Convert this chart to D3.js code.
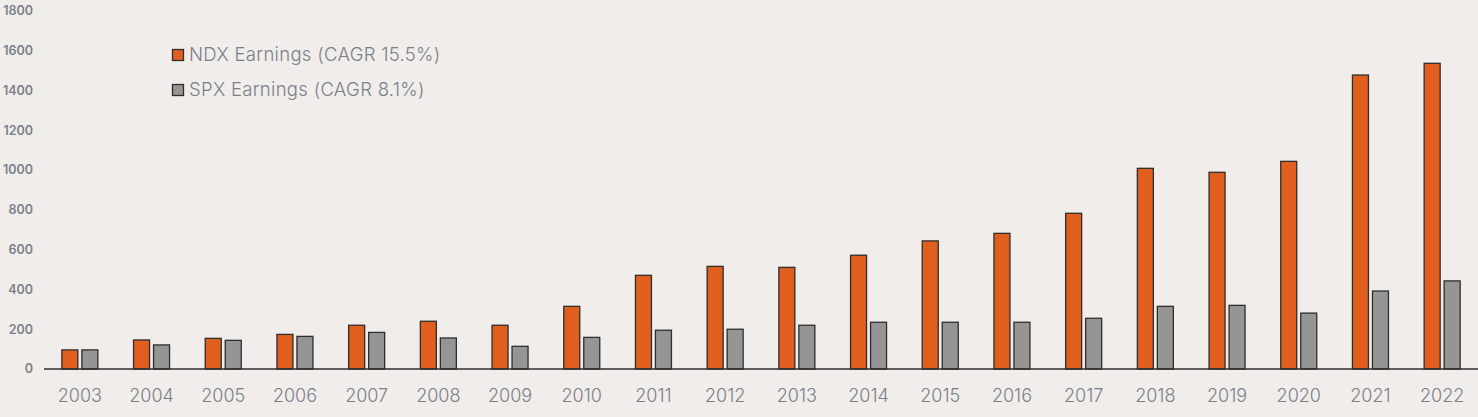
<!DOCTYPE html>
<html>
<head>
<meta charset="utf-8">
<script src="https://cdn.jsdelivr.net/npm/d3@7"></script>
<style>
  html, body { margin: 0; padding: 0; background: #f0edea; }
  svg { display: block; }
</style>
</head>
<body>
<svg id="chart" width="1478" height="417"></svg>
<script>
const years = ["2003","2004","2005","2006","2007","2008","2009","2010","2011","2012","2013","2014","2015","2016","2017","2018","2019","2020","2021","2022"];
const ndxEarnings = [96, 146, 154, 174, 220, 240, 220, 315, 471, 516, 511, 572, 644, 682, 783, 1009, 989, 1044, 1478, 1537];
const spxEarnings = [96, 121, 144, 164, 184, 156, 114, 159, 195, 200, 220, 235, 235, 235, 255, 315, 320, 281, 392, 443];
const yTicks = [0, 200, 400, 600, 800, 1000, 1200, 1400, 1600, 1800];
const seriesNames = ["NDX Earnings (CAGR 15.5%)", "SPX Earnings (CAGR 8.1%)"];
const seriesColors = ["#e05f1f", "#959595"];

const svg = d3.select("#chart");
const W = 1478, H = 417;
svg.append("rect").attr("width", W).attr("height", H).attr("fill", "#f0edea");

const x = d3.scaleBand().domain(years).range([44, 1478]).paddingInner(0).paddingOuter(0);
const y = d3.scaleLinear().domain([0, 1800]).range([369, 11]);
const barW = 16, gap = 4;

// y tick labels
svg.append("g").selectAll("text").data(yTicks).join("text")
  .attr("x", 33).attr("y", d => y(d)).attr("dy", "0.35em")
  .attr("text-anchor", "end")
  .attr("font-family", "Inter, 'Noto Sans', sans-serif")
  .attr("font-size", 12.5).attr("font-weight", 600)
  .attr("fill", "#7b7f8a")
  .text(d => d);

const series = [ndxEarnings, spxEarnings];
series.forEach((vals, si) => {
  svg.append("g").selectAll("rect").data(vals).join("rect")
    .attr("x", (d, i) => x(years[i]) + x.bandwidth() / 2 + (si === 0 ? -(barW + gap / 2) : gap / 2))
    .attr("y", d => y(d))
    .attr("width", barW)
    .attr("height", d => y(0) - y(d))
    .attr("fill", seriesColors[si])
    .attr("stroke", "#2e2e2e")
    .attr("stroke-width", 1.3);
});

// x axis line
svg.append("line").attr("x1", 44).attr("x2", 1478).attr("y1", y(0)).attr("y2", y(0))
  .attr("stroke", "#2e2e2e").attr("stroke-width", 1.5);

// x labels
svg.append("g").selectAll("text").data(years).join("text")
  .attr("x", d => x(d) + x.bandwidth() / 2).attr("y", 402)
  .attr("text-anchor", "middle")
  .attr("font-family", "Inter, 'Noto Sans', sans-serif")
  .attr("font-size", 18).attr("font-weight", 300)
  .attr("fill", "#7b7f8a")
  .text(d => d);

// legend
const leg = svg.append("g");
seriesNames.forEach((name, i) => {
  const cy = 55 + i * 35;
  leg.append("rect").attr("x", 172.5).attr("y", cy - 5.5).attr("width", 11).attr("height", 11)
    .attr("fill", seriesColors[i]).attr("stroke", "#2e2e2e").attr("stroke-width", 1.3);
  leg.append("text").attr("x", 189).attr("y", cy).attr("dy", "0.35em")
    .attr("font-family", "Inter, 'Noto Sans', sans-serif")
    .attr("font-size", 18.5).attr("font-weight", 300)
    .attr("letter-spacing", 0.3)
    .attr("fill", "#7b7f8a")
    .text(name);
});
</script>
</body>
</html>
